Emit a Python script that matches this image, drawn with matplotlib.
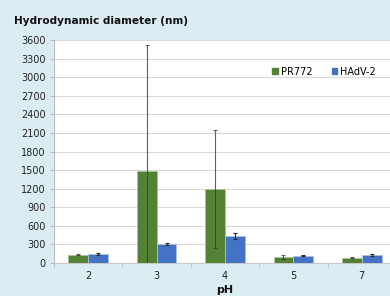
import matplotlib
matplotlib.use("Agg")
import matplotlib.pyplot as plt
import numpy as np
from matplotlib.patches import Patch

categories = ["2", "3", "4", "5", "7"]
pr772 = [135, 1480, 1200, 95, 85]
pr772_err = [10, 2040, 950, 30, 10]
hadv2 = [145, 300, 435, 120, 130]
hadv2_err = [10, 15, 50, 10, 10]
yticks = list(range(0, 3601, 300))

bg = "#dbedf3"
fig = plt.figure(figsize=(3.9, 2.96), dpi=100, facecolor=bg)
ax = fig.add_axes([54/390, 33/296, 342/390, 223/296])
ax.set_facecolor("white")

x = np.arange(len(categories))
w = 0.29
ax.bar(x - w/2, pr772, w, color="#548235", edgecolor="#a9c79a", linewidth=0.6, zorder=3)
ax.bar(x + w/2, hadv2, w, color="#4472c4", edgecolor="#a9bfe8", linewidth=0.6, zorder=3)
ax.errorbar(x - w/2, pr772, yerr=pr772_err, fmt="none", ecolor="#3a3a3a", elinewidth=0.8,
            capsize=1.5, capthick=0.8, zorder=4, alpha=0.8)
ax.errorbar(x + w/2, hadv2, yerr=hadv2_err, fmt="none", ecolor="#2a2a2a", elinewidth=0.8,
            capsize=1.5, capthick=0.8, zorder=4)

ax.set_ylim(0, 3600)
ax.set_xlim(-0.5, len(categories) - 0.5)
ax.set_yticks(yticks)
ax.set_yticklabels([str(t) for t in yticks], fontsize=7, color="#222222")
ax.set_xticks(x)
ax.set_xticklabels(categories, fontsize=7, color="#222222")
ax.tick_params(axis="x", length=0, pad=6)
ax.tick_params(axis="y", length=3, color="#bbbbbb", pad=3)
ax.set_xticks(np.arange(len(categories) + 1) - 0.5, minor=True)
ax.tick_params(axis="x", which="minor", length=3, color="#bbbbbb")
ax.grid(axis="y", color="#d9d9d9", linewidth=0.8, zorder=0)
for s in ["top", "right"]:
    ax.spines[s].set_visible(False)
ax.spines["left"].set_color("#bbbbbb")
ax.spines["bottom"].set_color("#c8c8c8")

handles = [Patch(color="#548235", label="PR772"), Patch(color="#4472c4", label="HAdV-2")]
fig.legend(handles=handles, loc="upper left", bbox_to_anchor=(263/390, 1 - 58/296), ncol=2,
           frameon=False, fontsize=7, handlelength=0.6, handleheight=0.6,
           handletextpad=0.3, columnspacing=2.0)

fig.text(14/390, 1 - 24/296, "Hydrodynamic diameter (nm)", fontsize=7.6, fontweight="bold",
         color="#111111", va="baseline")
fig.text(225/390, 1 - 293/296, "pH", fontsize=8, fontweight="bold", color="#111111",
         ha="center", va="baseline")

fig.savefig("out.png", dpi=100, facecolor=bg)
